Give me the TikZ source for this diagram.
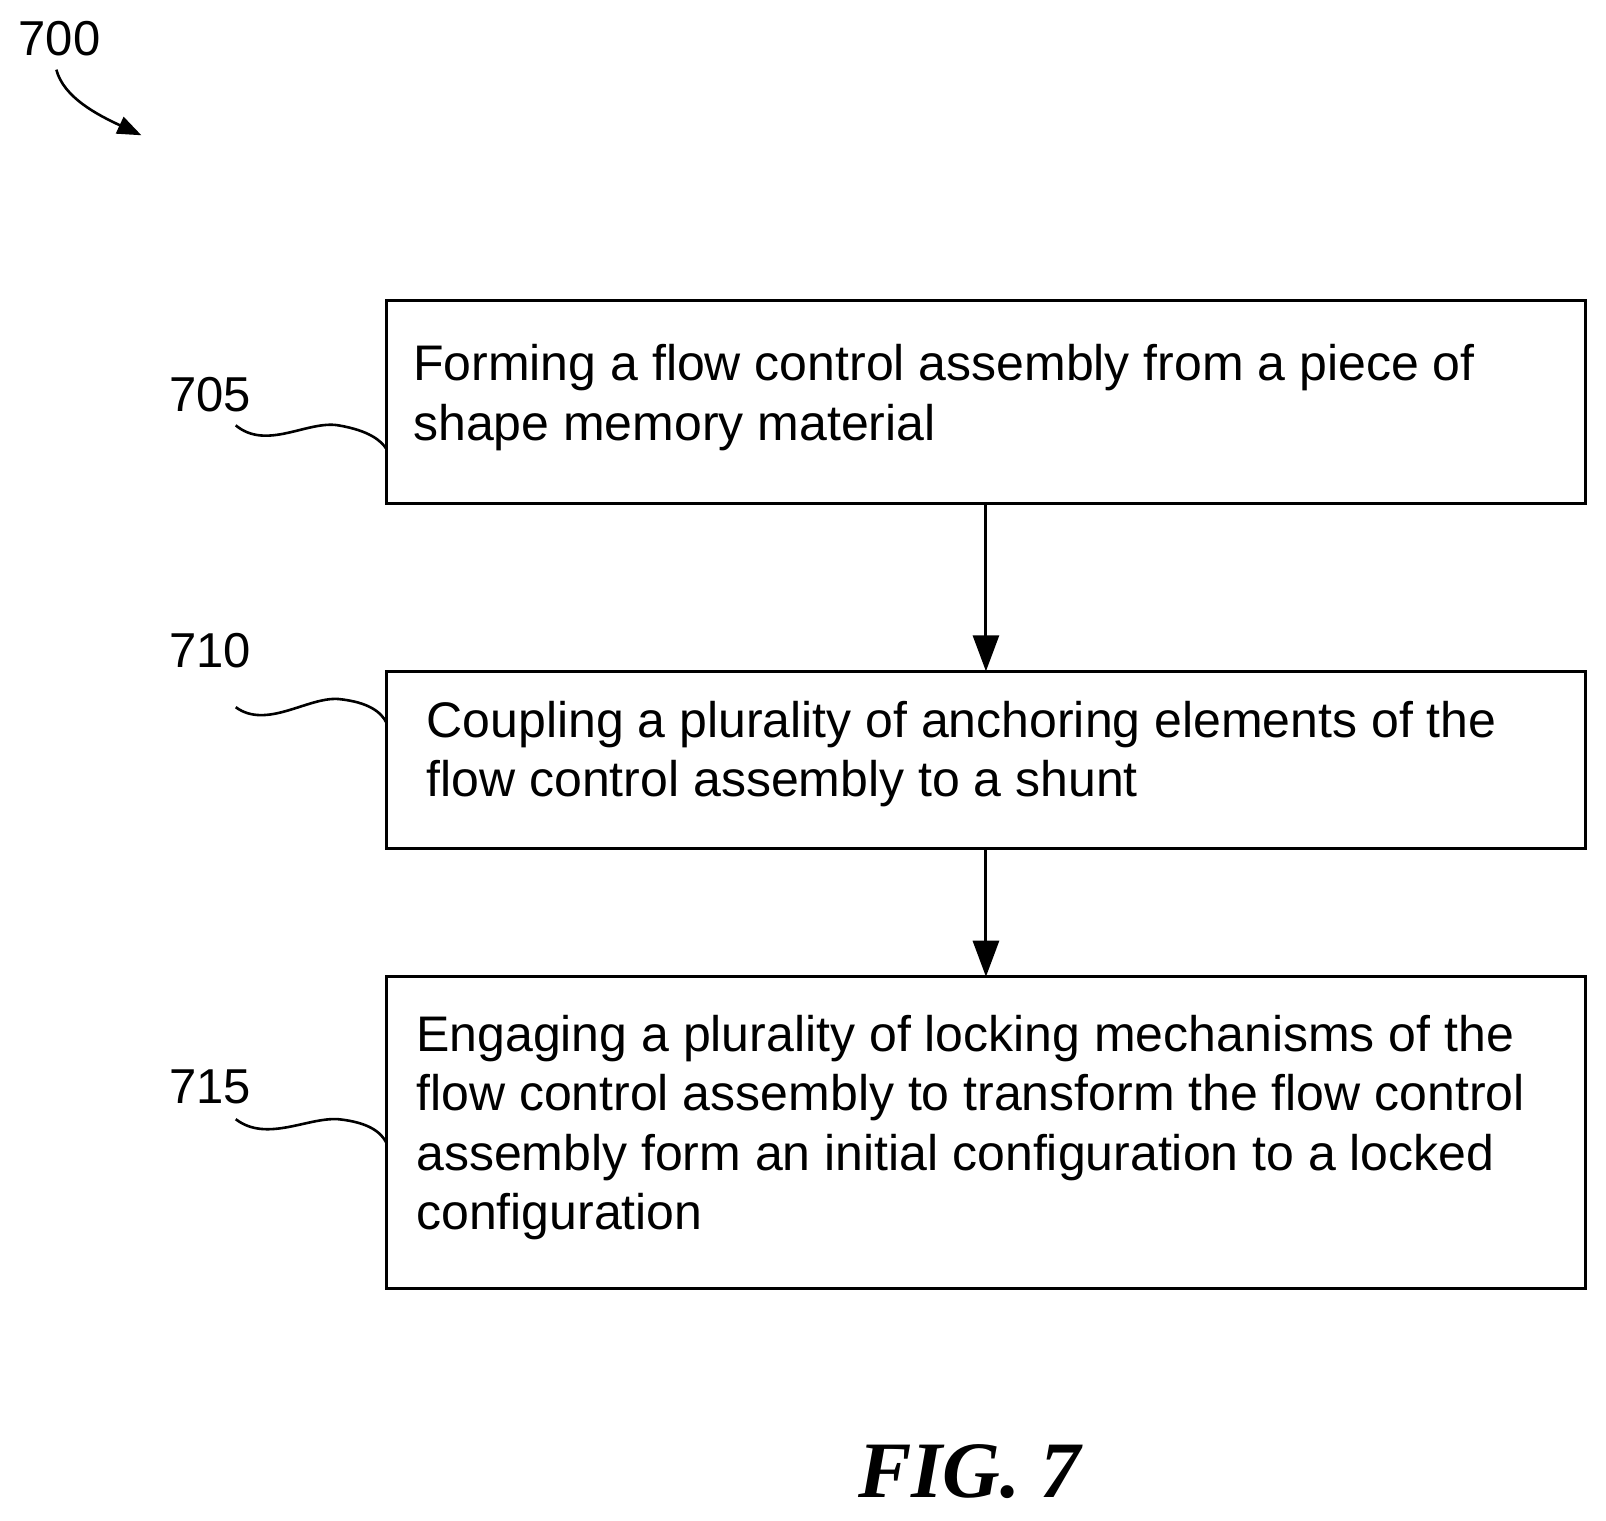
\documentclass[tikz,border=0pt]{standalone}
\usepackage{fontspec}
\setmainfont{Liberation Sans}
\newfontfamily\figfont{Liberation Serif}
\usetikzlibrary{arrows.meta}
\begin{document}
\begin{tikzpicture}[x=1.025pt,y=-1.025pt,
 txt/.style={anchor=north west,align=left,font=\fontsize{50}{59.5}\selectfont,inner sep=0pt},
 lab/.style={font=\fontsize{49}{56}\selectfont},
 conn/.style={line width=3pt,-{Triangle[length=36pt,width=26pt]}},
 sq/.style={line width=2.6pt}]
\useasboundingbox (0,0) rectangle (1567,1484);
\draw[line width=3pt] (377,293) rectangle (1547,491);
\node (b1) [minimum width=1199pt,minimum height=203pt,anchor=north west,inner sep=0pt] at (377,293) {};
\draw[line width=3pt] (377,655) rectangle (1547,828);
\node (b2) [minimum width=1199pt,minimum height=177pt,anchor=north west,inner sep=0pt] at (377,655) {};
\draw[line width=3pt] (377,953) rectangle (1547,1257);
\node (b3) [minimum width=1199pt,minimum height=312pt,anchor=north west,inner sep=0pt] at (377,953) {};
\node (t1) [txt] at (403,336) {Forming a flow control assembly from a piece of\\shape memory material};
\node (t2) [txt] at (416,684) {Coupling a plurality of anchoring elements of the\\flow control assembly to a shunt};
\node (t3) [txt] at (406,990) {Engaging a plurality of locking mechanisms of the\\flow control assembly to transform the flow control\\assembly form an initial configuration to a locked\\configuration};
\draw[conn] (b1.south -| 962,0) -- (b2.north -| 962,0);
\draw[conn] (b2.south -| 962,0) -- (b3.north -| 962,0);
\node (l705) [lab] at (205,385) {705};
\node (l710) [lab] at (205,635) {710};
\node (l715) [lab] at (205,1060) {715};
\node (l700) [lab] at (58,38) {700};
\coordinate (s1) at (230,415);
\coordinate (s2) at (230,690);
\coordinate (s3) at (230,1092);
\draw[sq] (s1) .. controls (260,440) and (300,410) .. (330,415) .. controls (360,420) and (372,430) .. (377,438);
\draw[sq] (s2) .. controls (260,712) and (300,680) .. (330,682) .. controls (360,685) and (372,695) .. (377,705);
\draw[sq] (s3) .. controls (260,1115) and (300,1090) .. (330,1092) .. controls (360,1095) and (372,1105) .. (377,1115);
\coordinate (a0) at (55,68);
\coordinate (a1) at (138,132);
\draw[line width=2.6pt,-{Triangle[length=24pt,width=18pt]}] (a0) .. controls (62,95) and (95,112) .. (a1);
\node (fig) at (946,1436) {\figfont\bfseries\itshape\fontsize{80}{84}\selectfont FIG. 7};
\end{tikzpicture}
\end{document}
